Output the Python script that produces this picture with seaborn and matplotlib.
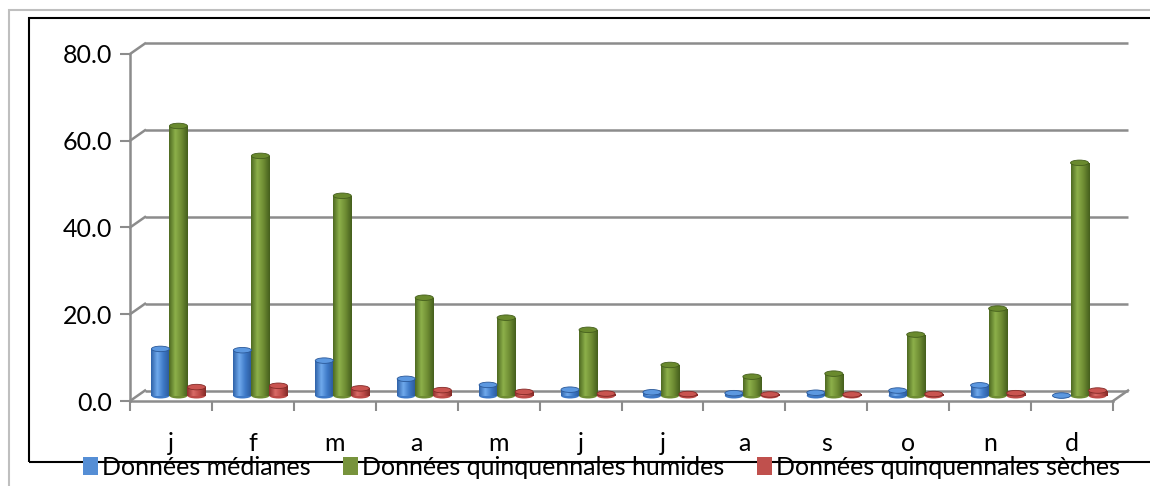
import numpy as np
import pandas as pd
import matplotlib
matplotlib.use("Agg")
import matplotlib.pyplot as plt
import seaborn as sns
from matplotlib.patches import Ellipse, Rectangle, Patch
from matplotlib.colors import LinearSegmentedColormap

# Données mensuelles
mois = ["j", "f", "m", "a", "m", "j", "j", "a", "s", "o", "n", "d"]
series = ["Données médianes", "Données quinquennales humides", "Données quinquennales sèches"]
medianes = [10.8, 10.5, 8.1, 3.9, 2.5, 1.4, 0.8, 0.6, 0.7, 1.2, 2.4, 0.05]
humides = [62.2, 55.3, 46.1, 22.6, 18.0, 15.2, 7.1, 4.4, 5.1, 14.1, 20.1, 53.7]
seches = [2.0, 2.3, 1.7, 1.3, 0.9, 0.5, 0.4, 0.3, 0.3, 0.4, 0.6, 1.2]
yticks = [0, 20, 40, 60, 80]

couleurs = ["#4F8BD6", "#77933C", "#C0504D"]
degrades = [["#2F62A8", "#6FA9EC", "#3D78C6", "#2A5898"],
            ["#4E6A22", "#8DB04A", "#6E8C33", "#455F1D"],
            ["#8E2F2C", "#DA6B67", "#BC4A47", "#832A27"]]
chapeaux = ["#5C98E0", "#6A8A2E", "#C95450"]

df = pd.DataFrame({
    "mois_idx": list(range(12)) * 3,
    "valeur": medianes + humides + seches,
    "serie": np.repeat(series, 12),
})

plt.rcParams["font.family"] = ["Lato", "DejaVu Sans"]

fig = plt.figure(figsize=(11.5, 4.86), dpi=100)
ax = fig.add_axes([130 / 1150, 85 / 486, 983 / 1150, 347 / 486])

sns.barplot(data=df, x="mois_idx", y="valeur", hue="serie", hue_order=series,
            palette=couleurs, width=0.66, dodge=True, legend=False, ax=ax,
            saturation=1, zorder=2)

# décalage "3D" (profondeur)
DX = 15 / 81.9
DY = 10.5 / 4.3375
cap_h = 5.5 / 4.3375

bars = [p for p in ax.patches if isinstance(p, Rectangle)]
for k, p in enumerate(bars):
    s = k // 12
    x0 = p.get_x() + DX / 2
    w = p.get_width()
    h = p.get_height()
    y0 = DY / 2
    p.set_x(x0)
    p.set_y(y0)
    p.set_edgecolor("none")
    p.set_zorder(2)
    cmap = LinearSegmentedColormap.from_list("c%d" % s, degrades[s])
    grad = np.linspace(0, 1, 64).reshape(1, -1)
    if h > 0.2:
        im = ax.imshow(grad, extent=[x0, x0 + w, y0, y0 + h], aspect="auto",
                       cmap=cmap, zorder=2.1, interpolation="bilinear")
        im.set_clip_path(p)
    ax.add_patch(Ellipse((x0 + w / 2, y0), w, cap_h, facecolor=degrades[s][2],
                         edgecolor="none", zorder=1.9))
    ax.add_patch(Ellipse((x0 + w / 2, y0 + h), w, cap_h, facecolor=chapeaux[s],
                         edgecolor=degrades[s][3], lw=0.6, zorder=2.2))

ax.set_xlim(-0.5, 11.5)
ax.set_ylim(0, 80)

# grille du plan arrière + diagonales
gris = "#8C8C8C"
for y in yticks:
    ax.plot([-0.5 + DX, 11.5 + DX], [y + DY, y + DY], color=gris, lw=1.8,
            zorder=1, clip_on=False, solid_capstyle="butt")
    ax.plot([-0.5, -0.5 + DX], [y, y + DY], color=gris, lw=1.8, zorder=1,
            clip_on=False)
ax.plot([11.5, 11.5 + DX], [0, DY], color=gris, lw=1.8, zorder=1, clip_on=False)

for side in ["top", "right"]:
    ax.spines[side].set_visible(False)
for side in ["left", "bottom"]:
    ax.spines[side].set_color(gris)
    ax.spines[side].set_linewidth(1.8)

ax.set_yticks(yticks)
ax.set_yticklabels([f"{v:.1f}" for v in yticks], fontsize=18)
ax.tick_params(axis="y", length=7, width=1.5, color=gris, pad=6)
ax.set_xticks(range(12))
ax.set_xticklabels(mois, fontsize=18)
ax.tick_params(axis="x", length=0, pad=22)
ax.set_xticks(np.arange(-0.5, 12, 1), minor=True)
ax.tick_params(axis="x", which="minor", length=7, width=1.5, color=gris)
ax.set_xlabel("")
ax.set_ylabel("")
ax.set_facecolor("none")

# cadres
fig.add_artist(Rectangle((9 / 1150, -0.1), 1.2, 1.1 - 10 / 486,
                         transform=fig.transFigure, fill=False,
                         edgecolor="#BFBFBF", lw=1.5))
fig.add_artist(Rectangle((29 / 1150, 1 - 462 / 486), 1.2, (462 - 18) / 486,
                         transform=fig.transFigure, fill=False,
                         edgecolor="black", lw=1.5))

handles = [Patch(facecolor=c, edgecolor="none") for c in ["#558ED5", "#77933C", "#C0504D"]]
fig.legend(handles, series, loc="center", bbox_to_anchor=(0.523, 1 - 467 / 486),
           ncol=3, frameon=False, fontsize=18, handlelength=0.6, handleheight=0.75,
           handletextpad=0.15, columnspacing=1.3, borderpad=0)

fig.savefig("out.png", dpi=100)
